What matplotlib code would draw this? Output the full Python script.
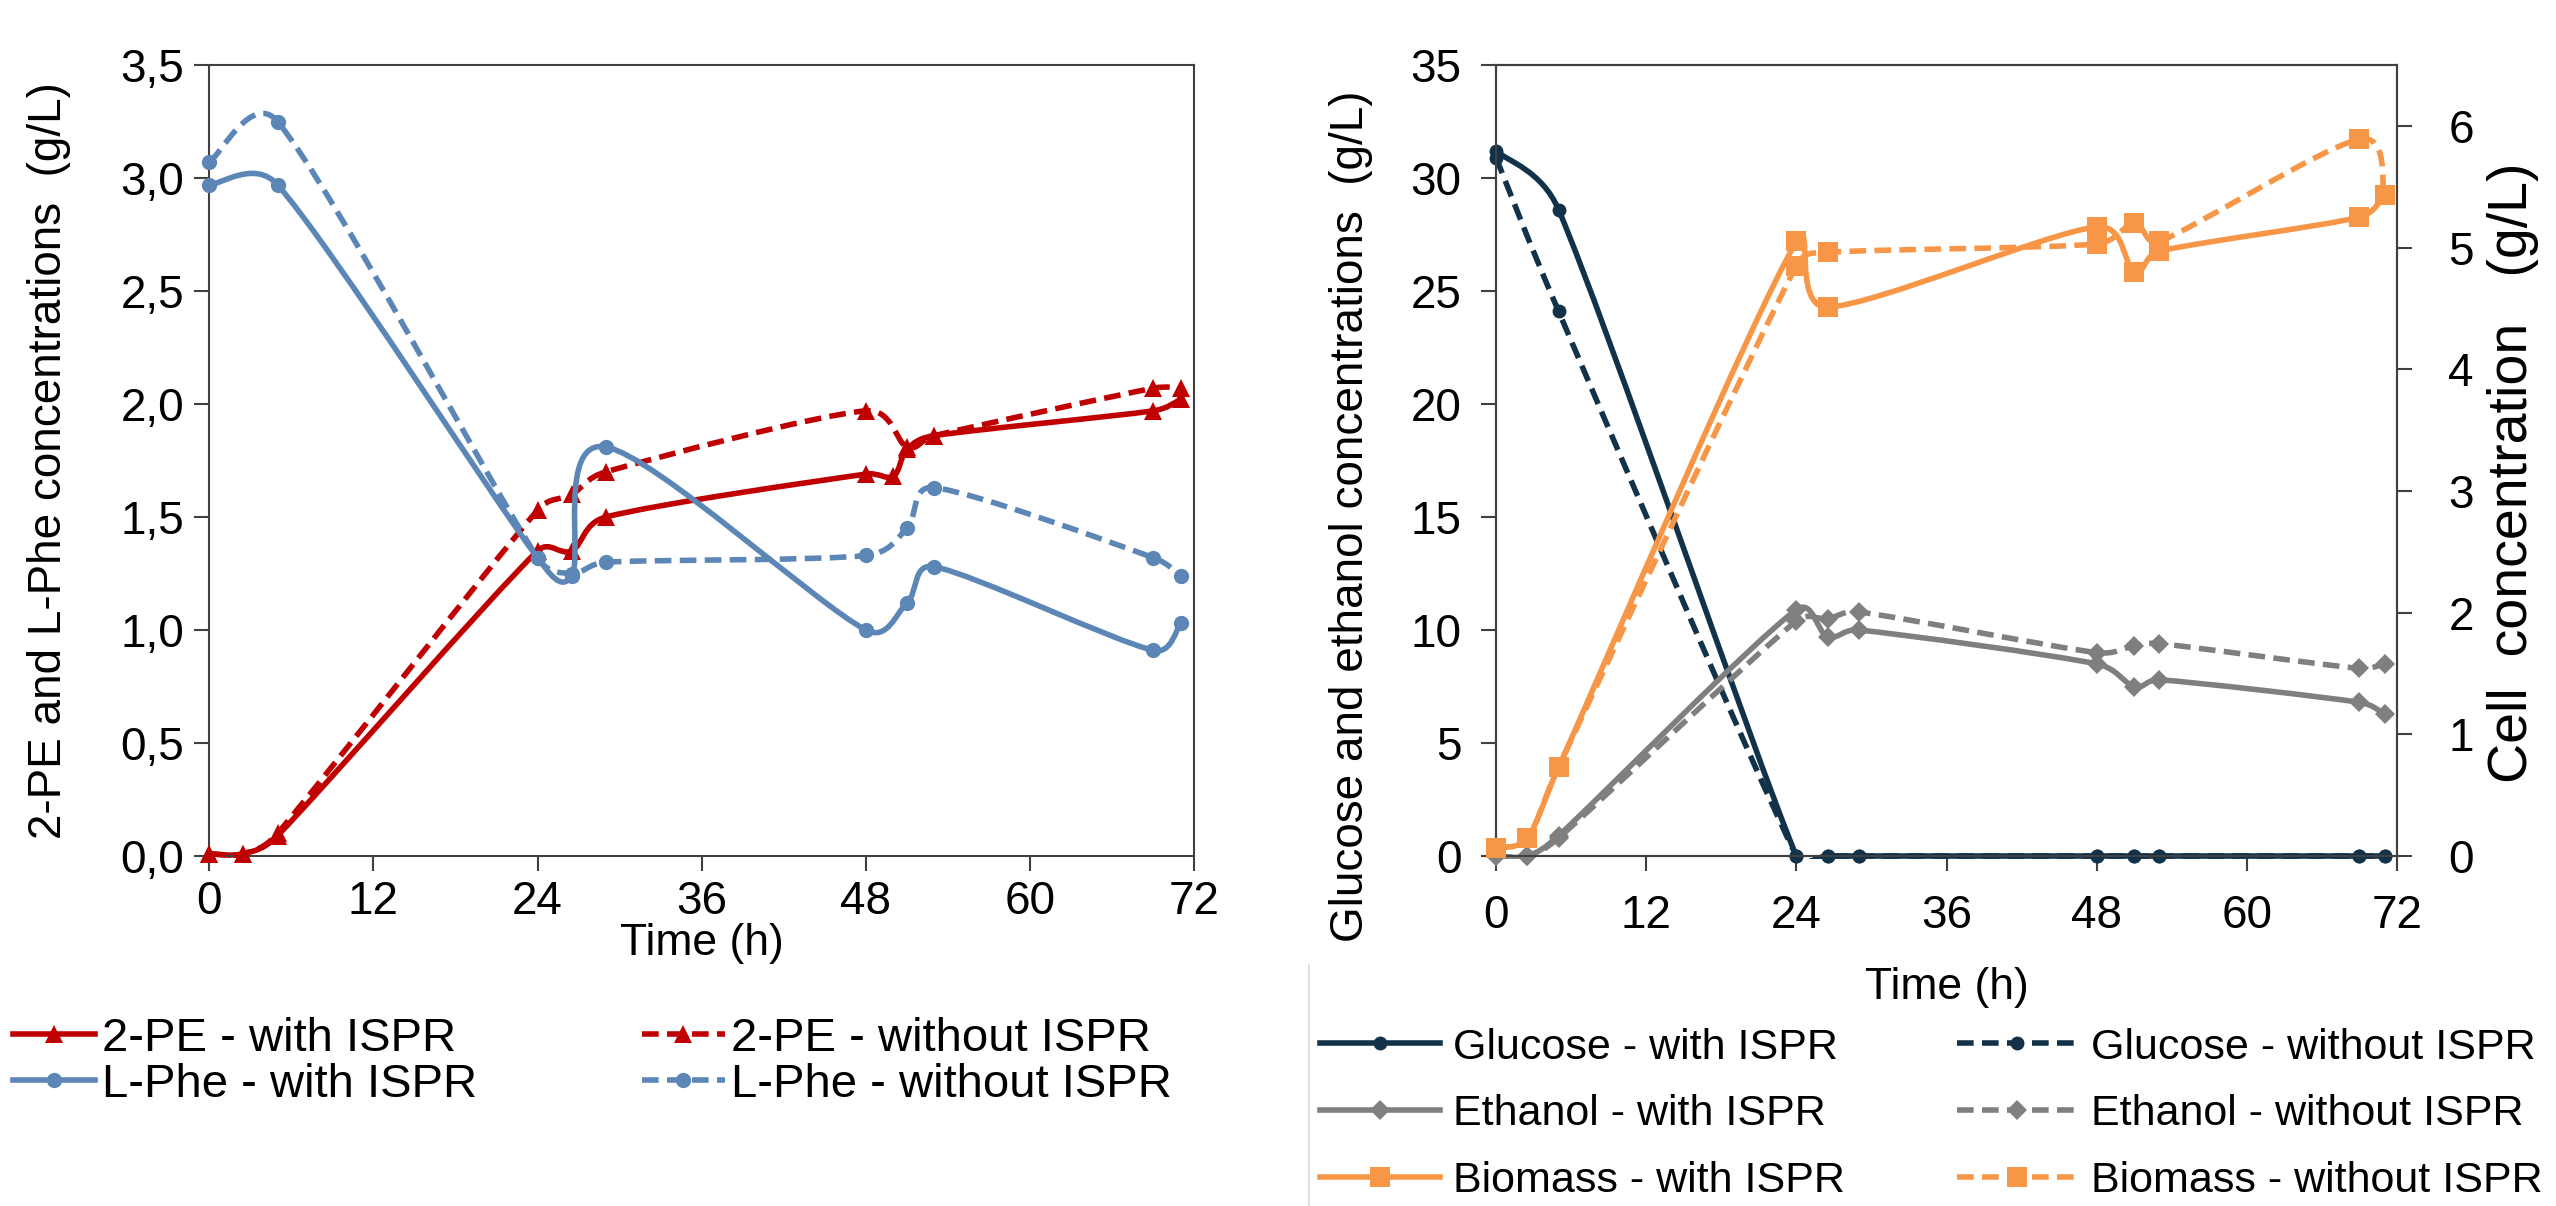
import numpy as np
import matplotlib
matplotlib.use('Agg')
import matplotlib.pyplot as plt
from matplotlib.path import Path
from matplotlib.patches import PathPatch, Rectangle
from matplotlib.lines import Line2D
from matplotlib.ticker import FuncFormatter

plt.rcParams['font.family'] = ['Liberation Sans', 'DejaVu Sans']

## Left panel: 2-PE and L-Phe (g/L) ##
t_pe_with = [0, 2.5, 5, 24, 26.5, 29, 48, 50, 51, 53, 69, 71]
pe_with = [0.01, 0.01, 0.09, 1.35, 1.35, 1.50, 1.69, 1.68, 1.80, 1.86, 1.97, 2.02]
t_pe_without = [0, 2.5, 5, 24, 26.5, 29, 48, 51, 53, 69, 71]
pe_without = [0.01, 0.01, 0.10, 1.53, 1.60, 1.70, 1.97, 1.81, 1.86, 2.07, 2.07]
t_phe = [0, 5, 24, 26.5, 29, 48, 51, 53, 69, 71]
phe_with = [2.97, 2.97, 1.32, 1.24, 1.81, 1.00, 1.12, 1.28, 0.91, 1.03]
phe_without = [3.07, 3.25, 1.32, 1.25, 1.30, 1.33, 1.45, 1.63, 1.32, 1.24]

## Right panel: glucose, ethanol (g/L) and biomass (g/L, right axis) ##
t_glc = [0, 5, 24, 26.5, 29, 48, 51, 53, 69, 71]
glc_with = [31.2, 28.6, 0, 0, 0, 0, 0, 0, 0, 0]
glc_without = [30.9, 24.1, 0, 0, 0, 0, 0, 0, 0, 0]
t_eth = [0, 2.5, 5, 24, 26.5, 29, 48, 51, 53, 69, 71]
eth_with = [0, 0, 0.9, 10.9, 9.7, 10.0, 8.5, 7.5, 7.8, 6.8, 6.3]
eth_without = [0, 0, 0.8, 10.4, 10.5, 10.8, 9.0, 9.3, 9.4, 8.3, 8.5]
t_bio = [0, 2.5, 5, 24, 26.5, 48, 51, 53, 69, 71]
bio_with = [0.07, 0.15, 0.73, 5.05, 4.51, 5.17, 4.80, 4.97, 5.25, 5.43]
bio_without = [0.07, 0.15, 0.73, 4.85, 4.96, 5.03, 5.20, 5.05, 5.89, 5.43]

time_ticks = [0, 12, 24, 36, 48, 60, 72]

RED = '#C00000'
BLUE = '#5B86B6'
NAVY = '#12324A'
GRAY = '#7F7F7F'
ORANGE = '#F79646'
SPINE = '#404040'
LW = 4.0
DASH = (0, (3, 1.5))


def smooth_path(ax, x, y):
    # Excel-style smoothed line: cubic Bezier segments, control arms
    # parallel to the neighbour chord, computed in display space
    pts = ax.transData.transform(np.column_stack([x, y]))
    n = len(pts)
    verts = [pts[0]]
    codes = [Path.MOVETO]
    for i in range(n - 1):
        p0 = pts[i - 1] if i > 0 else pts[i]
        p1 = pts[i]
        p2 = pts[i + 1]
        p3 = pts[i + 2] if i + 2 < n else pts[i + 1]
        d12 = np.hypot(*(p2 - p1))
        d02 = np.hypot(*(p2 - p0))
        d13 = np.hypot(*(p3 - p1))
        c1 = p1.copy()
        c2 = p2.copy()
        if d02 > 0:
            c1 = p1 + (p2 - p0) / d02 * min(d02 / 6, d12 / 2)
        if d13 > 0:
            c2 = p2 - (p3 - p1) / d13 * min(d13 / 6, d12 / 2)
        verts += [c1, c2, p2]
        codes += [Path.CURVE4] * 3
    verts = ax.transData.inverted().transform(np.array(verts))
    return Path(verts, codes)


def draw_series(ax, x, y, color, ls, marker, ms, z):
    patch = PathPatch(smooth_path(ax, x, y), facecolor='none', edgecolor=color,
                      lw=LW, linestyle=ls, capstyle='butt', joinstyle='round', zorder=z)
    ax.add_patch(patch)
    # plot area clip, a few pixels wider so lines lying on an axis stay whole
    patch.set_clip_path(Rectangle((-0.01, -0.004), 1.02, 1.008,
                                  transform=ax.transAxes, facecolor='none'))
    ax.plot(x, y, ls='none', marker=marker, ms=ms, color=color,
            markeredgewidth=0, clip_on=False, zorder=z + 0.1)


def style_axes(ax):
    for s in ax.spines.values():
        s.set_color(SPINE)
        s.set_linewidth(1.5)
    ax.tick_params(direction='out', length=11, width=1.5, color=SPINE, labelsize=33)


fig = plt.figure(figsize=(25.56, 12.06), dpi=100)

# ---- left panel ----
ax1 = fig.add_axes([0.0818, 0.2902, 0.3855, 0.6559])
ax1.set_xlim(0, 72)
ax1.set_ylim(0, 3.5)
ax1.set_xticks(time_ticks)
ax1.set_yticks(np.arange(0, 3.51, 0.5))
ax1.yaxis.set_major_formatter(FuncFormatter(lambda v, p: f'{v:.1f}'.replace('.', ',')))
style_axes(ax1)
ax1.tick_params(axis='x', pad=6)
ax1.tick_params(axis='y', pad=7)

draw_series(ax1, t_pe_with, pe_with, RED, '-', '^', 13, 2)
draw_series(ax1, t_pe_without, pe_without, RED, DASH, '^', 13, 3)
draw_series(ax1, t_phe, phe_with, BLUE, '-', 'o', 11, 4)
draw_series(ax1, t_phe, phe_without, BLUE, DASH, 'o', 11, 5)

ax1.set_xlabel('Time (h)', fontsize=32)
ax1.xaxis.set_label_coords(0.5, -0.085)
ax1.set_ylabel('2-PE and L-Phe concentrations  (g/L)', fontsize=33)
ax1.yaxis.set_label_coords(-0.14, 0.5)

# ---- right panel ----
ax2 = fig.add_axes([0.5853, 0.2902, 0.3525, 0.6559])
ax2.set_xlim(0, 72)
ax2.set_ylim(0, 35)
ax2.set_xticks(time_ticks)
ax2.set_yticks(range(0, 36, 5))
style_axes(ax2)
ax2.tick_params(axis='x', pad=16)
ax2.tick_params(axis='y', pad=14)

ax3 = ax2.twinx()
ax3.set_ylim(0, 6.5)
ax3.set_yticks(range(0, 7))
style_axes(ax3)
ax3.tick_params(axis='y', pad=26)

draw_series(ax2, t_glc, glc_with, NAVY, '-', 'o', 10, 2)
draw_series(ax2, t_glc, glc_without, NAVY, DASH, 'o', 10, 3)
draw_series(ax2, t_eth, eth_with, GRAY, '-', 'D', 10, 4)
draw_series(ax2, t_eth, eth_without, GRAY, DASH, 'D', 10, 5)
draw_series(ax3, t_bio, bio_with, ORANGE, '-', 's', 14, 2)
draw_series(ax3, t_bio, bio_without, ORANGE, DASH, 's', 14, 3)

ax2.set_xlabel('Time (h)', fontsize=32)
ax2.xaxis.set_label_coords(0.5, -0.14)
ax2.set_ylabel('Glucose and ethanol concentrations  (g/L)', fontsize=33)
ax2.yaxis.set_label_coords(-0.137, 0.43)
ax3.set_ylabel('Cell  concentration   (g/L)', fontsize=40)
ax3.yaxis.set_label_coords(1.1, 0.484)


def handle(color, ls, marker, ms):
    return Line2D([], [], color=color, lw=LW, ls=ls, marker=marker, ms=ms, markeredgewidth=0)


left_handles = [handle(RED, '-', '^', 13), handle(BLUE, '-', 'o', 11),
                handle(RED, DASH, '^', 13), handle(BLUE, DASH, 'o', 11)]
left_labels = ['2-PE - with ISPR', 'L-Phe - with ISPR',
               '2-PE - without ISPR', 'L-Phe - without ISPR']
fig.legend(left_handles, left_labels, loc='upper left', bbox_to_anchor=(0.005, 0.157),
           ncol=2, frameon=False, fontsize=34, borderpad=0, borderaxespad=0,
           handlelength=1.75, handletextpad=0.13, columnspacing=3.5, labelspacing=0.05)

right_handles = [handle(NAVY, '-', 'o', 10), handle(GRAY, '-', 'D', 10), handle(ORANGE, '-', 's', 14),
                 handle(NAVY, DASH, 'o', 10), handle(GRAY, DASH, 'D', 10), handle(ORANGE, DASH, 's', 14)]
right_labels = ['Glucose - with ISPR', 'Ethanol - with ISPR', 'Biomass - with ISPR',
                'Glucose - without ISPR', 'Ethanol - without ISPR', 'Biomass - without ISPR']
fig.legend(right_handles, right_labels, loc='upper left', bbox_to_anchor=(0.5164, 0.148),
           ncol=2, frameon=False, fontsize=31, borderpad=0, borderaxespad=0,
           handlelength=2.8, handletextpad=0.3, columnspacing=2.6, labelspacing=0.62)

# thin divider between the two panels
fig.add_artist(Line2D([0.512, 0.512], [0.0, 0.2], transform=fig.transFigure,
                      color='#D9D9D9', lw=1.2))

fig.savefig('out.png', dpi=100, facecolor='white')
